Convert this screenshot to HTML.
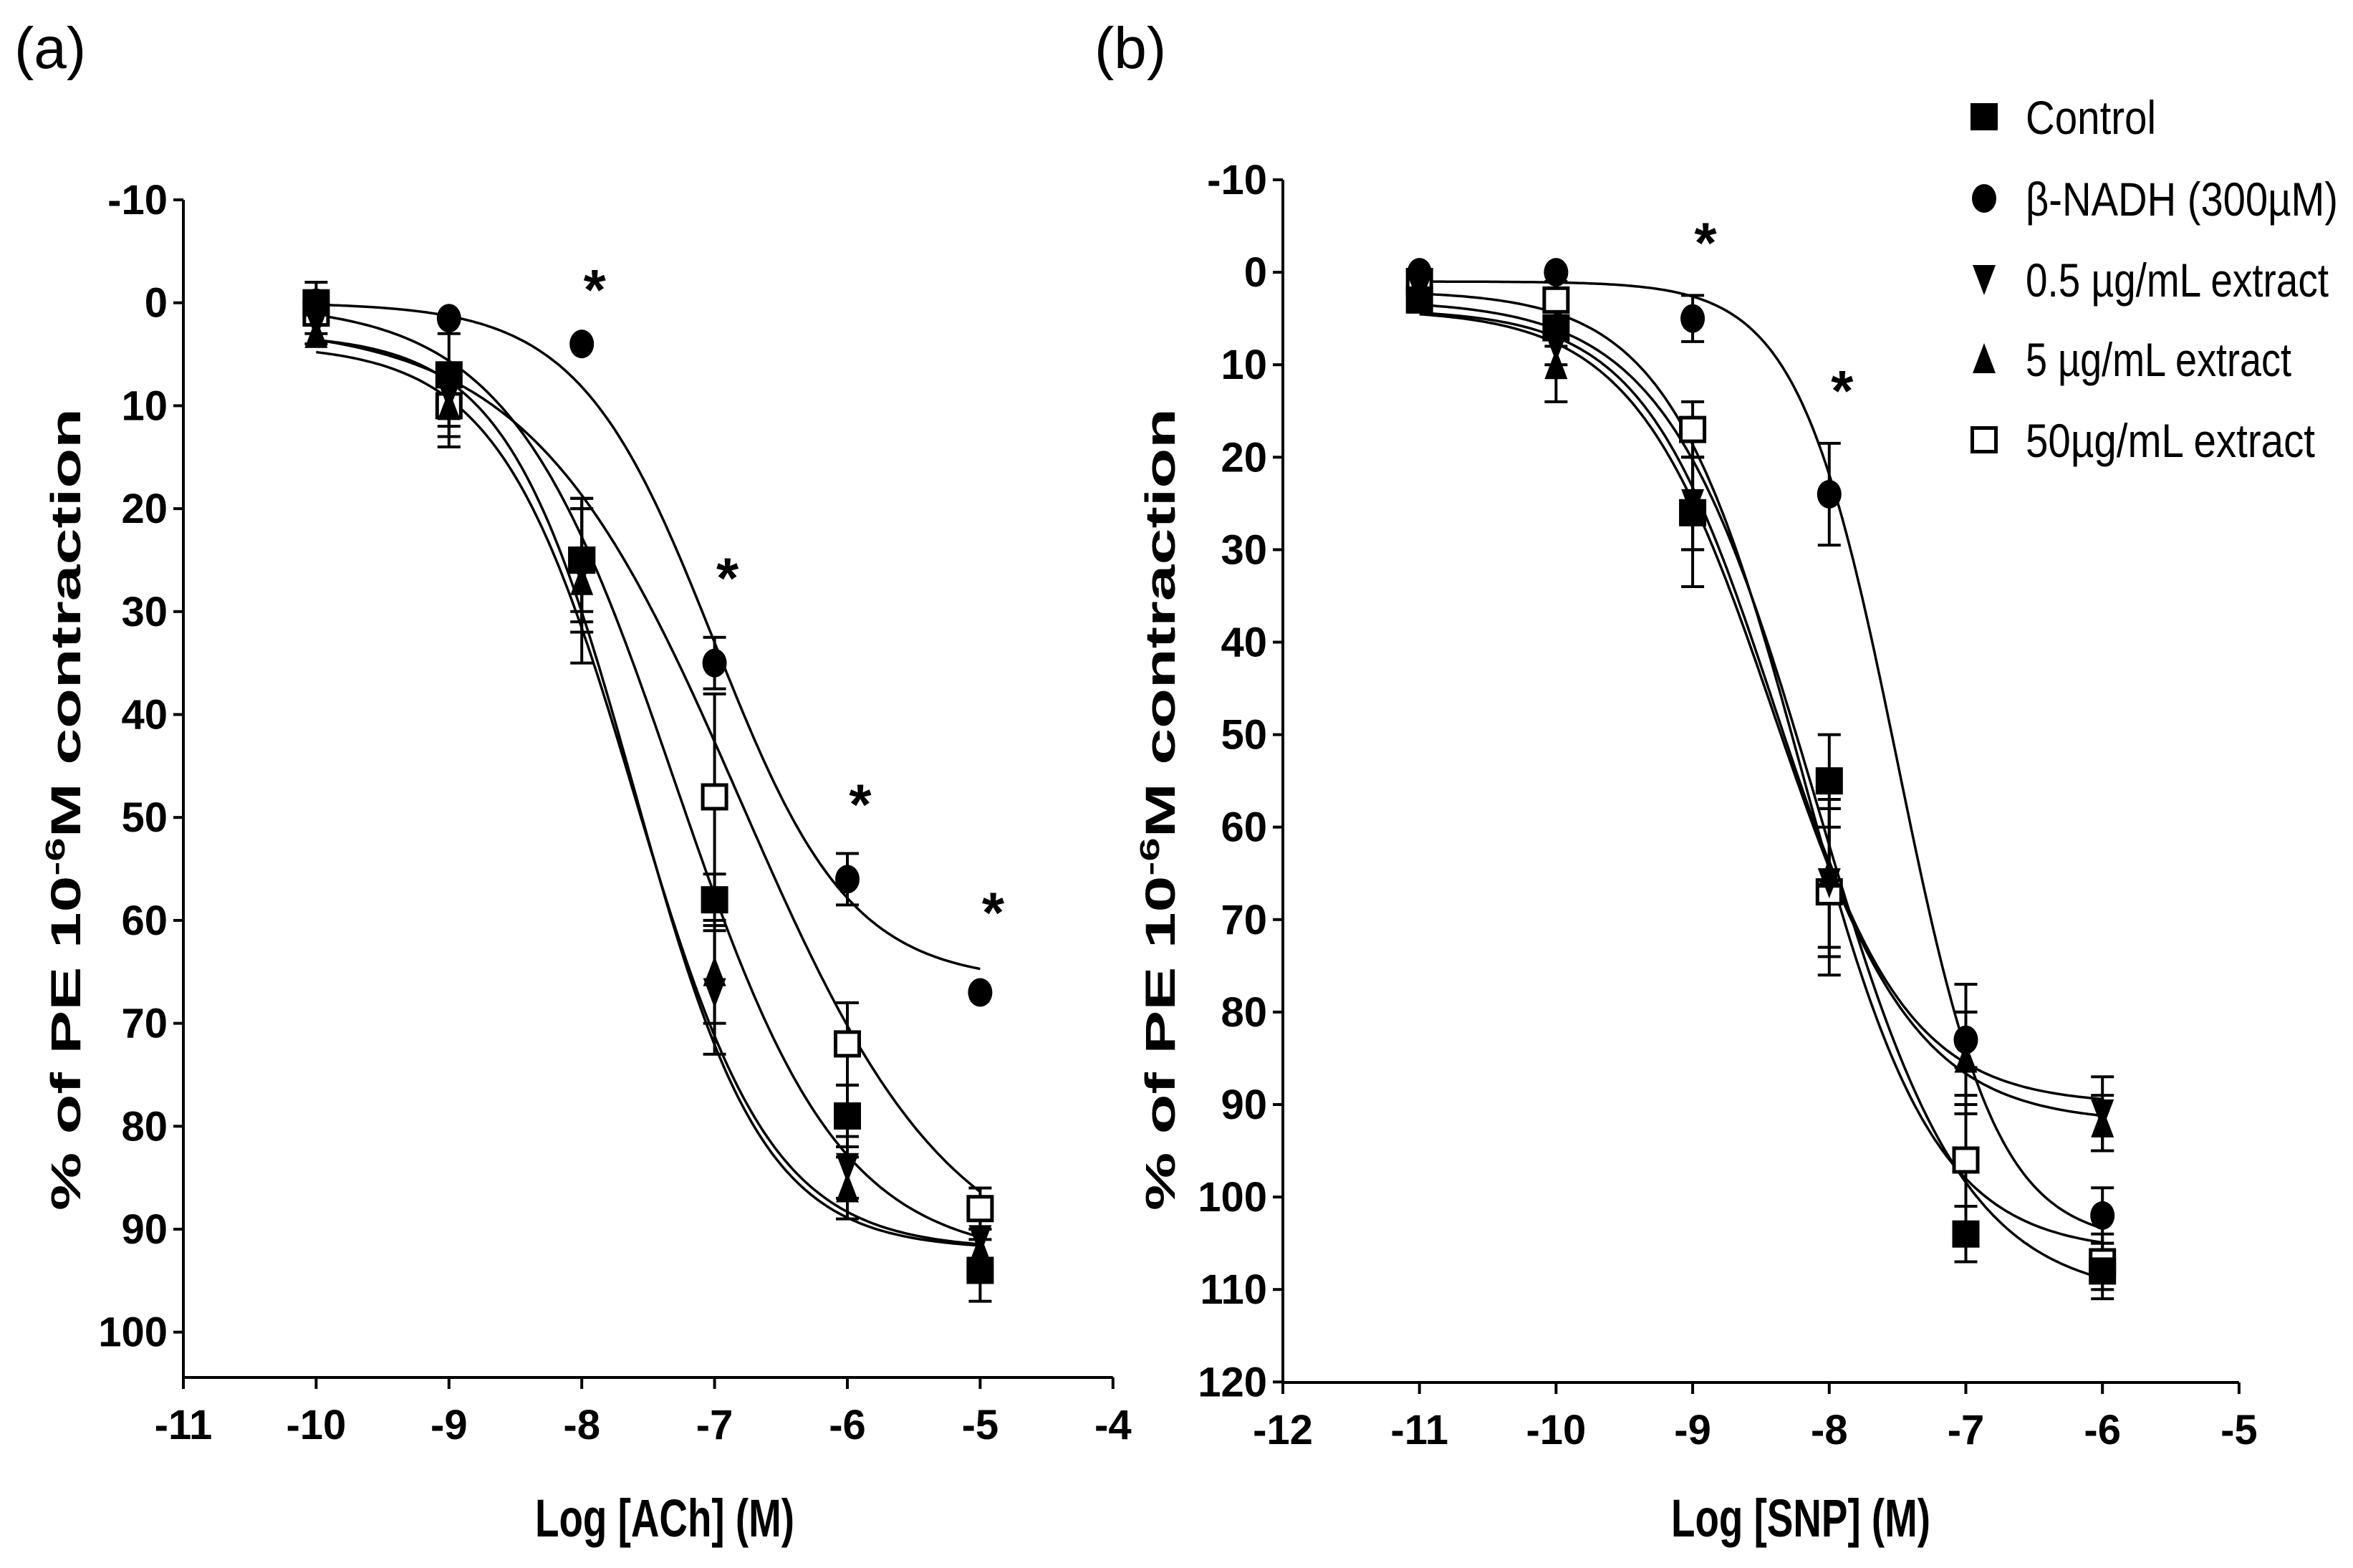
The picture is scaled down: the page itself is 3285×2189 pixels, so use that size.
<!DOCTYPE html>
<html><head><meta charset="utf-8"><style>
html,body{margin:0;padding:0;background:#fff;}
svg{display:block;font-family:"Liberation Sans",sans-serif;}
</style></head><body>
<svg id="fig" width="3285" height="2189" viewBox="0 0 3285 2189" xmlns="http://www.w3.org/2000/svg">
<text x="20" y="95" font-size="82">(a)</text>
<text x="1528" y="95" font-size="82">(b)</text>
<g id="legend"></g>
</svg>
<script>
// ---- Panel A data (Log [ACh]) ----
const xA = [-10, -9, -8, -7, -6, -5];
const controlA = [0, 7, 25, 58, 79, 94];
const nadhA = [0, 1.5, 4, 35, 56, 67];
const ext05A = [2, 9, 26, 67, 84, 91];
const ext5A = [3, 10, 27, 65, 86, 92];
const ext50A = [1, 10, 25, 48, 72, 88];
const errControlA = [2, 4, 6, 2.5, 3, 3];
const errNadhA = [0, 0, 0, 2.5, 2.5, 0];
const errExt05A = [1, 3, 6, 6, 3, 2];
const errExt5A = [1, 4, 8, 5, 3, 2];
const errExt50A = [1, 3, 5, 10, 4, 2];
// fitted curve params: top, bottom, logEC50, hill
const curveControlA = [0, 93, -7.3, 0.7];
const curveNadhA = [0, 66, -7.0, 0.85];
const curveExt05A = [3, 92, -7.6, 0.9];
const curveExt5A = [4, 92, -7.6, 0.85];
const curveExt50A = [2, 95, -6.8, 0.55];
const starsXA = [-8, -7, -6, -5];
const starsYA = [-2, 26, 48, 58.5];
const xTicksA = [-11, -10, -9, -8, -7, -6, -5, -4];
const yTicksA = [-10, 0, 10, 20, 30, 40, 50, 60, 70, 80, 90, 100];

// ---- Panel B data (Log [SNP]) ----
const xB = [-11, -10, -9, -8, -7, -6];
const controlB = [3, 6, 26, 55, 104, 108];
const nadhB = [0, 0, 5, 24, 83, 102];
const ext05B = [2, 8, 25, 66, 84, 91];
const ext5B = [2, 10, 25, 65, 85, 92];
const ext50B = [1, 3, 17, 67, 96, 107];
const errControlB = [1, 2, 8, 5, 3, 3];
const errNadhB = [0, 0, 2.5, 5.5, 3, 3];
const errExt05B = [1, 2, 5, 8, 7, 4];
const errExt5B = [1, 4, 5, 8, 5, 3];
const errExt50B = [1, 2, 3, 9, 7, 3];
const curveControlB = [3, 111, -8.1, 0.8];
const curveNadhB = [1, 105, -7.5, 1.2];
const curveExt05B = [4, 90, -8.4, 0.9];
const curveExt5B = [4, 92, -8.4, 0.85];
const curveExt50B = [2, 106, -8.2, 0.9];
const starsXB = [-9, -8];
const starsYB = [-4, 12];
const xTicksB = [-12, -11, -10, -9, -8, -7, -6, -5];
const yTicksB = [-10, 0, 10, 20, 30, 40, 50, 60, 70, 80, 90, 100, 110, 120];

const NS = "http://www.w3.org/2000/svg";
const svg = document.getElementById('fig');
const NARROW = '"Liberation Sans Narrow","Liberation Sans",sans-serif';
function mk(tag, attrs, parent) {
  const e = document.createElementNS(NS, tag);
  for (const k in attrs) e.setAttribute(k, attrs[k]);
  (parent || svg).appendChild(e);
  return e;
}
function hill(p, x) { return p[0] + (p[1] - p[0]) / (1 + Math.pow(10, (p[2] - x) * p[3])); }

function marker(g, shape, cx, cy, name) {
  let e;
  const s = 19;
  if (shape === 'square') e = mk('rect', {x: cx - s, y: cy - s, width: 2 * s, height: 2 * s, fill: '#000'}, g);
  else if (shape === 'open') e = mk('rect', {x: cx - s + 2.5, y: cy - s + 2.5, width: 2 * s - 5, height: 2 * s - 5, fill: '#fff', stroke: '#000', 'stroke-width': 5}, g);
  else if (shape === 'circle') e = mk('ellipse', {cx: cx, cy: cy, rx: 17, ry: 20, fill: '#000'}, g);
  else if (shape === 'down') e = mk('polygon', {points: `${cx - 16},${cy - 20} ${cx + 16},${cy - 20} ${cx},${cy + 22}`, fill: '#000'}, g);
  else e = mk('polygon', {points: `${cx - 16},${cy + 20} ${cx + 16},${cy + 20} ${cx},${cy - 22}`, fill: '#000'}, g);
  
  
  return e;
}

function panel(cfg) {
  const g = mk('g', {});
  
  
  const sx = v => cfg.x0 + (v - cfg.xmin) * cfg.xs;
  const sy = v => cfg.y0 + (v - cfg.ymin) * cfg.ys;
  const ya = mk('line', {x1: cfg.x0, y1: sy(cfg.ymin), x2: cfg.x0, y2: cfg.yBottom, stroke: '#000', 'stroke-width': 4}, g);
   
  const xa = mk('line', {x1: cfg.x0, y1: cfg.yBottom, x2: sx(cfg.xmax), y2: cfg.yBottom, stroke: '#000', 'stroke-width': 4}, g);
   
  cfg.yTicks.forEach(v => {
    const t = mk('line', {x1: cfg.x0 - 14, y1: sy(v), x2: cfg.x0, y2: sy(v), stroke: '#000', 'stroke-width': 4}, g);
     
    const l = mk('text', {x: cfg.x0 - 22, y: sy(v) + 20, 'text-anchor': 'end', 'font-size': 58, 'font-weight': 'bold', 'font-family': NARROW}, g);
    l.textContent = v;
     
  });
  cfg.xTicks.forEach(v => {
    const t = mk('line', {x1: sx(v), y1: cfg.yBottom, x2: sx(v), y2: cfg.yBottom + 16, stroke: '#000', 'stroke-width': 4}, g);
     
    const l = mk('text', {x: sx(v), y: cfg.yBottom + 86, 'text-anchor': 'middle', 'font-size': 58, 'font-weight': 'bold', 'font-family': NARROW}, g);
    l.textContent = v;
     
  });
  const xt = mk('text', {x: cfg.xTitleX, y: 2145, 'text-anchor': 'middle', 'font-size': 74, 'font-weight': 'bold', 'font-family': NARROW, textLength: 362, lengthAdjust: 'spacingAndGlyphs'}, g);
  xt.textContent = cfg.xTitle;
   
  const yt = mk('text', {x: 0, y: 0, 'text-anchor': 'middle', 'font-size': 58, 'font-weight': 'bold', transform: `translate(${cfg.yTitleX},${cfg.yTitleY}) rotate(-90)`, textLength: 1120, lengthAdjust: 'spacingAndGlyphs'}, g);
  yt.innerHTML = '% of PE 10<tspan dy="-22" font-size="38">-6</tspan><tspan dy="22">M contraction</tspan>';
   
  cfg.series.forEach(s => {
    let d = '';
    const xs0 = cfg.xs0[0], xs1 = cfg.xs0[1];
    for (let i = 0; i <= 200; i++) {
      const xv = xs0 + (xs1 - xs0) * i / 200;
      d += (i ? 'L' : 'M') + sx(xv).toFixed(1) + ',' + sy(hill(s.curve, xv)).toFixed(1);
    }
    const p = mk('path', {d: d, fill: 'none', stroke: '#000', 'stroke-width': 3.5}, g);
     
  });
  cfg.series.forEach(s => {
    cfg.x.forEach((xv, i) => {
      const e = s.err[i];
      if (e > 0) {
        const cx = sx(xv), y1 = sy(s.y[i] - e), y2 = sy(s.y[i] + e);
        const b = mk('path', {d: `M${cx},${y1}L${cx},${y2}M${cx - 16},${y1}L${cx + 16},${y1}M${cx - 16},${y2}L${cx + 16},${y2}`, stroke: '#000', 'stroke-width': 4, fill: 'none'}, g);
         
      }
    });
  });
  cfg.series.slice().reverse().forEach(s => {
    cfg.x.forEach((xv, i) => marker(g, s.shape, sx(xv), sy(s.y[i]), s.name + '-point'));
  });
  cfg.starsX.forEach((xv, i) => {
    const t = mk('text', {x: sx(xv) + 18, y: sy(cfg.starsY[i]) + 38, 'text-anchor': 'middle', 'font-size': 80, 'font-weight': 'bold'}, g);
    t.textContent = '*';
     
  });
}

panel({id: 'panel-a', x0: 256, xmin: -11, xmax: -4, xs: 185.4, y0: 279, ymin: -10, ys: 14.37, yBottom: 1923,
  xTicks: xTicksA, yTicks: yTicksA, x: xA, xs0: [-10, -5], xTitle: 'Log [ACh] (M)', xTitleX: 928, yTitleX: 112, yTitleY: 1130,
  starsX: starsXA, starsY: starsYA,
  series: [
    {name: 'control', shape: 'square', y: controlA, err: errControlA, curve: curveControlA},
    {name: 'b-nadh', shape: 'circle', y: nadhA, err: errNadhA, curve: curveNadhA},
    {name: 'extract-0-5', shape: 'down', y: ext05A, err: errExt05A, curve: curveExt05A},
    {name: 'extract-5', shape: 'up', y: ext5A, err: errExt5A, curve: curveExt5A},
    {name: 'extract-50', shape: 'open', y: ext50A, err: errExt50A, curve: curveExt50A}]});
panel({id: 'panel-b', x0: 1791, xmin: -12, xmax: -5, xs: 190.7, y0: 251, ymin: -10, ys: 12.91, yBottom: 1930,
  xTicks: xTicksB, yTicks: yTicksB, x: xB, xs0: [-11, -6], xTitle: 'Log [SNP] (M)', xTitleX: 2514, yTitleX: 1640, yTitleY: 1130,
  starsX: starsXB, starsY: starsYB,
  series: [
    {name: 'control', shape: 'square', y: controlB, err: errControlB, curve: curveControlB},
    {name: 'b-nadh', shape: 'circle', y: nadhB, err: errNadhB, curve: curveNadhB},
    {name: 'extract-0-5', shape: 'down', y: ext05B, err: errExt05B, curve: curveExt05B},
    {name: 'extract-5', shape: 'up', y: ext5B, err: errExt5B, curve: curveExt5B},
    {name: 'extract-50', shape: 'open', y: ext50B, err: errExt50B, curve: curveExt50B}]});

const legLabels = ['Control', 'β-NADH (300µM)', '0.5 µg/mL extract', '5 µg/mL extract', '50µg/mL extract'];
const legShapes = ['square', 'circle', 'down', 'up', 'open'];
const legWidths = [182, 436, 423, 371, 404];
const legRowY = [163, 277, 390, 501, 614];
const lg = document.getElementById('legend');
legLabels.forEach((t, i) => {
  marker(lg, legShapes[i], 2770, legRowY[i], 'legend-marker');
  const tx = mk('text', {x: 2828, y: legRowY[i] + 24, 'font-size': 66, 'font-family': NARROW, textLength: legWidths[i], lengthAdjust: 'spacingAndGlyphs'}, lg);
  tx.textContent = t;
   
});
</script>
</body></html>
